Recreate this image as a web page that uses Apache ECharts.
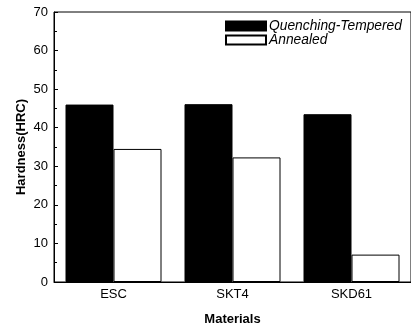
<!DOCTYPE html>
<html>
<head>
<meta charset="utf-8">
<script src="https://cdn.jsdelivr.net/npm/echarts@6/dist/echarts.min.js"></script>
<style>
  html, body { margin: 0; padding: 0; background: #fff; }
  #chart { width: 411px; height: 331px; }
</style>
</head>
<body>
<div id="chart"></div>
<script>
// 数据
const materials = ['ESC', 'SKT4', 'SKD61'];
const quenchingTempered = [46, 46.1, 43.5];
const annealed = [34.5, 32.3, 7.1];

const chart = echarts.init(document.getElementById('chart'));

const font = 'Arial, "Liberation Sans", sans-serif';

const option = {
    animation: false,
    grid: {
        left: 54,
        top: 12,
        width: 360,
        height: 270,
        show: true,
        borderColor: '#000',
        borderWidth: 1
    },
    legend: {
        left: 225,
        top: 19,
        padding: 0,
        orient: 'vertical',
        icon: 'rect',
        itemWidth: 40,
        itemHeight: 9,
        itemGap: 0,
        data: ['Quenching-Tempered', 'Annealed'],
        textStyle: {
            fontFamily: font,
            fontStyle: 'italic',
            fontSize: 13.8,
            color: '#000',
            padding: [0, 0, 0, -2]
        }
    },
    xAxis: {
        type: 'category',
        data: materials,
        name: 'Materials',
        nameLocation: 'middle',
        nameGap: 31,
        nameMoveOverlap: false,
        nameTextStyle: {
            fontFamily: font,
            fontWeight: 'bold',
            fontSize: 13,
            color: '#000'
        },
        axisLine: { lineStyle: { color: '#000', width: 1 } },
        axisTick: { show: false },
        axisLabel: {
            fontFamily: font,
            fontSize: 13,
            color: '#000',
            margin: 6
        }
    },
    yAxis: {
        type: 'value',
        min: 0,
        max: 70,
        interval: 10,
        name: 'Hardness(HRC)',
        nameLocation: 'middle',
        nameGap: 26,
        nameMoveOverlap: false,
        nameTextStyle: {
            fontFamily: font,
            fontWeight: 'bold',
            fontSize: 13,
            color: '#000'
        },
        axisLine: { show: true, lineStyle: { color: '#000', width: 1 } },
        axisTick: { show: true, inside: true, length: 4, lineStyle: { color: '#000' } },
        minorTick: { show: true, splitNumber: 2, length: 3, lineStyle: { color: '#000' } },
        splitLine: { show: false },
        axisLabel: {
            fontFamily: font,
            fontSize: 13,
            color: '#000',
            margin: 6
        }
    },
    series: [
        {
            name: 'Quenching-Tempered',
            type: 'bar',
            data: quenchingTempered,
            barWidth: 48,
            barGap: '0%',
            itemStyle: { color: '#000', borderColor: '#000', borderWidth: 1 }
        },
        {
            name: 'Annealed',
            type: 'bar',
            data: annealed,
            barWidth: 48,
            itemStyle: { color: '#fff', borderColor: '#000', borderWidth: 1 }
        }
    ]
};

chart.setOption(option);
</script>
</body>
</html>
